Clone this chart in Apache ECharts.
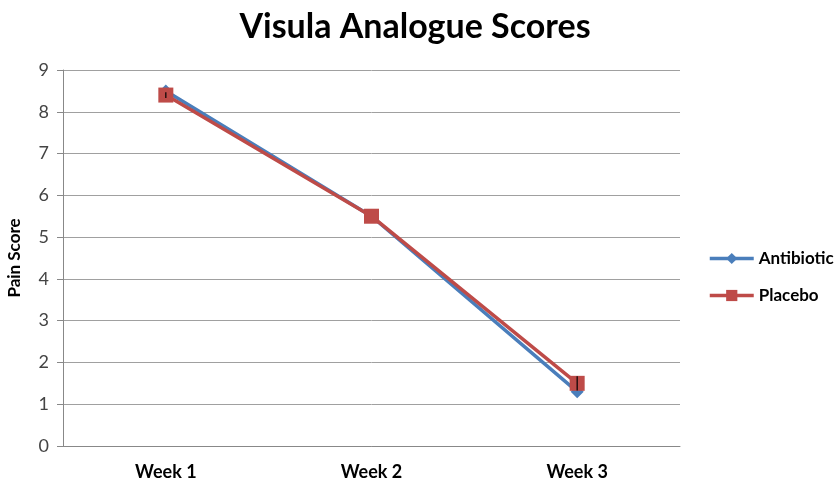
<!DOCTYPE html>
<html><head><meta charset="utf-8">
<script src="https://cdn.jsdelivr.net/npm/echarts@6/dist/echarts.min.js"></script>
<style>html,body{margin:0;padding:0;background:#fff}#c{width:837px;height:486px}</style>
</head><body><div id="c"></div>
<script>
const categories = ['Week 1', 'Week 2', 'Week 3'];
const antibiotic = [8.5, 5.5, 1.3];
const placebo = [8.4, 5.5, 1.5];
const placeboError = [0.07, 0, 0.17];
const yTicks = [0, 1, 2, 3, 4, 5, 6, 7, 8, 9];

const chart = echarts.init(document.getElementById('c'));
const font = 'Lato, "Open Sans", sans-serif';
chart.setOption({
  animation: false,
  title: {text: 'Visula Analogue Scores', left: 410, top: 5, textAlign: 'center',
    textStyle: {fontFamily: font, fontWeight: 'bold', fontSize: 34, color: '#000'}},
  grid: {left: 63, right: 157, top: 70, bottom: 40, outerBoundsMode: 'none', containLabel: false},
  legend: {orient: 'vertical', left: 703, top: 245, itemGap: 20, itemWidth: 44, itemHeight: 14,
    textStyle: {fontFamily: font, fontWeight: 'bold', fontSize: 17, color: '#000'},
    lineStyle: {width: 3.5},
    data: ['Antibiotic', 'Placebo']},
  xAxis: {type: 'category', data: categories, boundaryGap: true,
    axisLine: {lineStyle: {color: '#888', width: 1}},
    axisTick: {show: false},
    axisLabel: {fontFamily: font, fontWeight: 'bold', fontSize: 18, color: '#000', margin: 17}},
  yAxis: {type: 'value', min: yTicks[0], max: yTicks[yTicks.length - 1], interval: 1,
    name: 'Pain Score', nameLocation: 'middle', nameGap: 40, nameRotate: 90,
    nameTextStyle: {fontFamily: font, fontWeight: 'bold', fontSize: 17, color: '#000'},
    axisLine: {show: true, lineStyle: {color: '#888'}},
    axisTick: {show: true, length: 6, lineStyle: {color: '#888'}},
    axisLabel: {fontFamily: font, fontSize: 18, color: '#444', margin: 14},
    splitLine: {lineStyle: {color: '#a0a0a0', width: 1}}},
  series: [
    {name: 'Antibiotic', type: 'line', data: antibiotic, symbol: 'diamond', symbolSize: 13,
      itemStyle: {color: '#4A7EBB'}, lineStyle: {width: 3.5, color: '#4A7EBB'}},
    {name: 'Placebo', type: 'line', data: placebo, symbol: 'rect', symbolSize: 15,
      itemStyle: {color: '#BE4B48'}, lineStyle: {width: 3.5, color: '#BE4B48'}},
    {name: 'err', type: 'custom', z: 5,
      data: placebo.map((v, i) => [i, v - placeboError[i], v + placeboError[i]]),
      renderItem: function (params, api) {
        const lo = api.coord([api.value(0), api.value(1)]);
        const hi = api.coord([api.value(0), api.value(2)]);
        return {type: 'line', shape: {x1: lo[0], y1: lo[1], x2: hi[0], y2: hi[1]},
          style: {stroke: '#000', lineWidth: 1.2}};
      }}
  ]
});
</script></body></html>
